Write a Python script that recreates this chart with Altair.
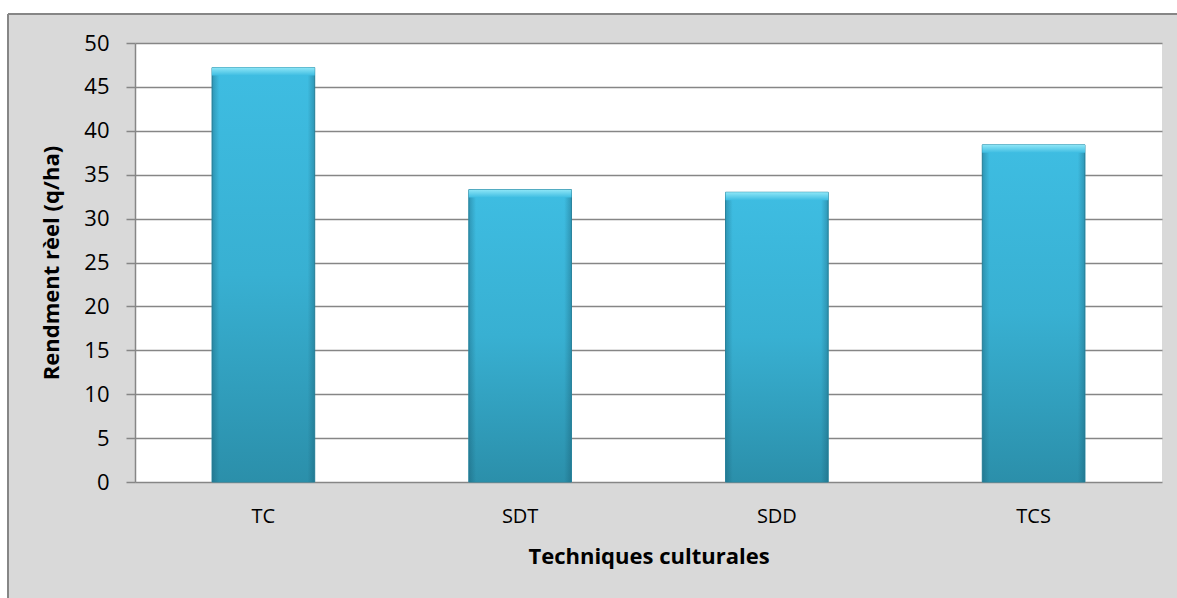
import altair as alt
import pandas as pd

categories = ["TC", "SDT", "SDD", "TCS"]
values = [47.2, 33.3, 33.0, 38.4]
y_ticks = list(range(0, 51, 5))

df = pd.DataFrame({"cat": categories, "val": values})

W, H = 1027, 439
PL, PT = 135, 43
FONT = "Open Sans"

x_enc = alt.X("cat:N", sort=categories,
              scale=alt.Scale(paddingInner=0.6, paddingOuter=0.3),
              axis=alt.Axis(title="Techniques culturales", labelAngle=0, ticks=False,
                            domain=False, labelPadding=24, titlePadding=20,
                            labelFontSize=20, titleFontSize=22, titleFontWeight="bold",
                            labelFont=FONT, titleFont=FONT, labelColor="#000", titleColor="#000"))
y_enc = alt.Y("val:Q", scale=alt.Scale(domain=[0, 50], nice=False),
              axis=alt.Axis(title="Rendment rèel (q/ha)", values=y_ticks, tickSize=9,
                            tickColor="#868686", tickWidth=1.5, domainColor="#868686",
                            domainWidth=1.5, gridColor="#868686", gridWidth=1.5,
                            labelPadding=17, titlePadding=20, labelFontSize=22,
                            titleFontSize=22, titleFontWeight="bold", labelFont=FONT,
                            titleFont=FONT, labelColor="#000", titleColor="#000"))

bars = alt.Chart(df).mark_bar(
    fill=alt.Gradient(gradient="linear", x1=0, x2=0, y1=0, y2=1,
                      stops=[alt.GradientStop(offset=0, color="#3ebde2"),
                             alt.GradientStop(offset=0.5, color="#38b0d2"),
                             alt.GradientStop(offset=1, color="#2b8faa")]),
    stroke="#2d8ca6", strokeWidth=1
).encode(x=x_enc, y=y_enc)

edges = alt.Chart(df).mark_bar(
    fill=alt.Gradient(gradient="linear", x1=0, x2=1, y1=0, y2=0,
                      stops=[alt.GradientStop(offset=0, color="rgba(20,80,100,0.35)"),
                             alt.GradientStop(offset=0.07, color="rgba(20,80,100,0)"),
                             alt.GradientStop(offset=0.93, color="rgba(20,80,100,0)"),
                             alt.GradientStop(offset=1, color="rgba(20,80,100,0.35)")])
).encode(x=alt.X("cat:N", sort=categories), y="val:Q")

top = alt.Chart(df).transform_calculate(top2="datum.val - 0.9").mark_bar(
    fill=alt.Gradient(gradient="linear", x1=0, x2=0, y1=0, y2=1,
                      stops=[alt.GradientStop(offset=0, color="#8ee6f7"),
                             alt.GradientStop(offset=1, color="#3ebde2")])
).encode(x=alt.X("cat:N", sort=categories), y="val:Q", y2="top2:Q")

# decorative frame (white page margin + grey border on top and left)
margin_top = alt.Chart(df).mark_rect(fill="white").encode(
    x=alt.value(-PL), x2=alt.value(W + 20), y=alt.value(-PT), y2=alt.value(-29))
margin_left = alt.Chart(df).mark_rect(fill="white").encode(
    x=alt.value(-PL), x2=alt.value(-127), y=alt.value(-PT), y2=alt.value(H + 130))
border_top = alt.Chart(df).mark_rule(stroke="#868686", strokeWidth=2).encode(
    x=alt.value(-127), x2=alt.value(W + 20), y=alt.value(-29))
border_left = alt.Chart(df).mark_rule(stroke="#868686", strokeWidth=2).encode(
    x=alt.value(-127), y=alt.value(-29), y2=alt.value(H + 130))

chart = alt.layer(bars, edges, top, margin_top, margin_left, border_top, border_left).properties(
    width=W, height=H,
    autosize=alt.AutoSizeParams(type="none"),
    padding={"left": PL, "top": PT, "right": 1177 - PL - W, "bottom": 598 - PT - H},
    background="#d9d9d9"
).configure_view(fill="white", stroke=None)

chart.save("out.html", embed_options={"renderer": "svg", "actions": False})
